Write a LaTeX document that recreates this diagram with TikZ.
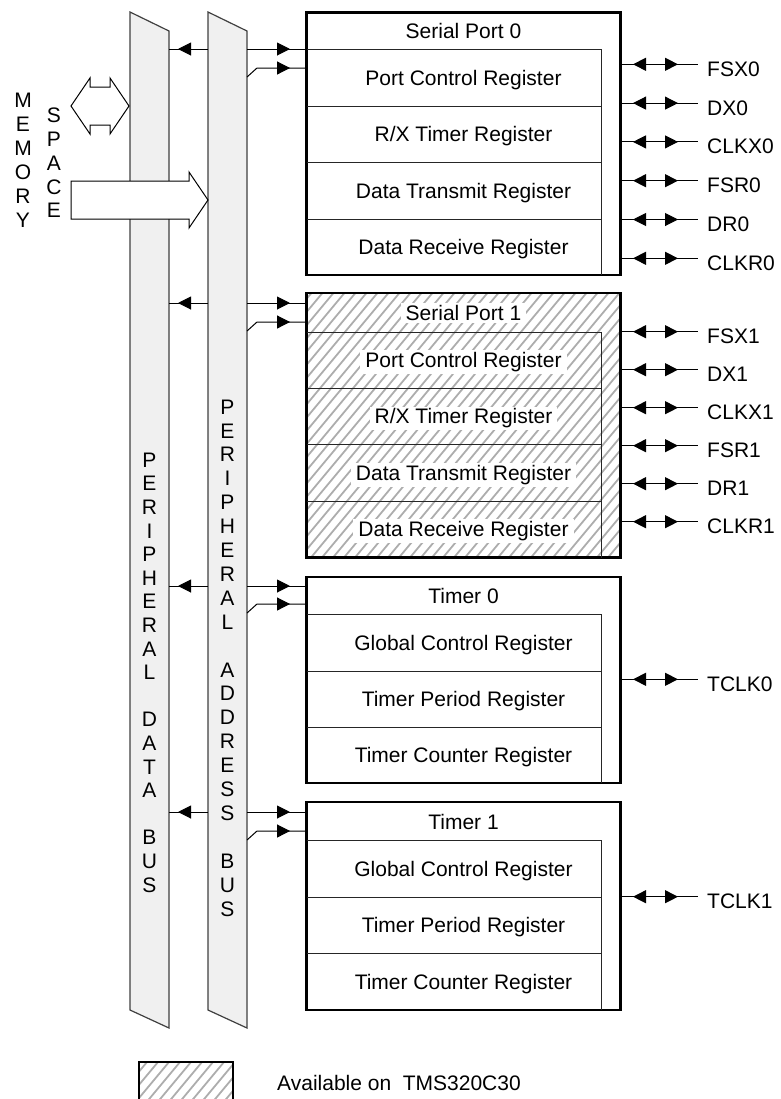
\documentclass[tikz,border=0pt]{standalone}
\usepackage{fontspec}
\setmainfont{Liberation Sans}
\usetikzlibrary{arrows.meta,decorations.markings}
\begin{document}
\begin{tikzpicture}[x=1bp,y=-1bp,
  every node/.style={font=\fontsize{21bp}{24bp}\selectfont, inner sep=0},
  bus/.style={draw=black!75, fill=black!6, line width=1.2bp},
  hollow/.style={draw=black, fill=white, line width=1bp},
  obox/.style={draw=black, line width=2.8bp, minimum width=314bp, anchor=north west, outer sep=0},
  regline/.style={line width=1bp, draw=black!85},
  hatchline/.style={draw=black!32, line width=1.8bp},
  txt/.style={anchor=base},
  lbl/.style={anchor=base, fill=white, inner xsep=5bp, inner ysep=2bp},
  pin/.style={anchor=base west, inner xsep=9bp},
  conn/.style={line width=1bp},
  pinline/.style={conn, postaction={decorate}, decoration={markings,
     mark=at position 12.5bp with {\arrowreversed{Triangle[length=13bp,width=13bp]}},
     mark=at position 57.5bp with {\arrow{Triangle[length=13bp,width=13bp]}}}},
  dataarrow/.style={conn, postaction={decorate}, decoration={markings,
     mark=at position 30bp with {\arrow{Triangle[length=13bp,width=13bp]}}}},
  addrarrow/.style={conn, postaction={decorate}, decoration={markings,
     mark=at position 43bp with {\arrow{Triangle[length=13bp,width=13bp]}}}},
  addrarrowb/.style={conn, postaction={decorate}, decoration={markings,
     mark=at position 46.5bp with {\arrow{Triangle[length=13bp,width=13bp]}}}},
  vtext/.style={align=center}
]
\useasboundingbox (0,0) rectangle (781,1099);

% ---------------- buses ----------------
\draw[bus] (130,12) -- (169,31) -- (169,1028) -- (130,1010) -- cycle;
\draw[bus] (208,12) -- (247,31) -- (247,1028) -- (208,1010) -- cycle;
\coordinate (dbR) at (169,0);
\coordinate (abL) at (208,0);
\coordinate (abR) at (247,0);

\node[vtext, font=\fontsize{21bp}{23.6bp}\selectfont] (dbtxt) at (149.5,672.5)
  {P\\E\\R\\I\\P\\H\\E\\R\\A\\L\\\mbox{}\\D\\A\\T\\A\\\mbox{}\\B\\U\\S};
\node[vtext, font=\fontsize{21bp}{23.9bp}\selectfont] (abtxt) at (227.5,658)
  {P\\E\\R\\I\\P\\H\\E\\R\\A\\L\\\mbox{}\\A\\D\\D\\R\\E\\S\\S\\\mbox{}\\B\\U\\S};

% ---------------- memory space ----------------
\node[vtext, font=\fontsize{21bp}{24bp}\selectfont] (mem) at (23,160) {M\\E\\M\\O\\R\\Y};
\node[vtext, font=\fontsize{21bp}{23.8bp}\selectfont] (spc) at (54,163) {S\\P\\A\\C\\E};
\draw[hollow] (71,106) -- (90,78) -- (90,87) -- (110,87) -- (110,78) -- (129,106)
  -- (110,134) -- (110,125) -- (90,125) -- (90,134) -- cycle;
\draw[hollow] (71,181) -- (189,181) -- (189,172) -- (208,200) -- (189,228)
  -- (189,219) -- (71,219) -- cycle;

% ---------------- hatching ----------------
\begin{scope}
  \clip (306.5,293) rectangle (620.5,557.5);
  \foreach \x in {80,91,...,640} \draw[hatchline] (\x,557.5) -- ++(230,-276);
\end{scope}
\begin{scope}
  \clip (139,1062) rectangle (233,1104);
  \foreach \x in {90,101,...,250} \draw[hatchline] (\x,1104) -- ++(40,-48);
\end{scope}

% ---------------- Serial Port 0 ----------------
\node[obox, minimum height=262.5bp] (sp0) at (306.5,12.5) {};
\draw[regline] (sp0.west |- 0,49) -- (601,49) -- (601,275);
\foreach \y in {106,162,219} \draw[regline] (sp0.west |- 0,\y) -- (601,\y);
\node[txt] (sp0t) at (463.5,38.8) {Serial Port 0};
\node[txt] (sp0a) at (463.5,85) {Port Control Register};
\node[txt] (sp0b) at (463.5,141.5) {R/X Timer Register};
\node[txt] (sp0c) at (463.5,198) {Data Transmit Register};
\node[txt] (sp0d) at (463.5,254.5) {Data Receive Register};

% ---------------- Serial Port 1 ----------------
\node[obox, minimum height=264.5bp] (sp1) at (306.5,293) {};
\draw[regline] (sp1.west |- 0,332) -- (601,332) -- (601,557.5);
\foreach \y in {388,444.5,501} \draw[regline] (sp1.west |- 0,\y) -- (601,\y);
\node[lbl] (sp1t) at (463.5,320.5) {Serial Port 1};
\node[lbl] (sp1a) at (463.5,367.5) {Port Control Register};
\node[lbl] (sp1b) at (463.5,423.8) {R/X Timer Register};
\node[lbl] (sp1c) at (463.5,480.2) {Data Transmit Register};
\node[lbl] (sp1d) at (463.5,536.5) {Data Receive Register};

% ---------------- Timer 0 ----------------
\node[obox, minimum height=206bp] (t0) at (306.5,577) {};
\draw[regline] (t0.west |- 0,614) -- (601,614) -- (601,783);
\foreach \y in {671,727} \draw[regline] (t0.west |- 0,\y) -- (601,\y);
\node[txt] (t0t) at (463.5,603.5) {Timer 0};
\node[txt] (t0a) at (463.5,650) {Global Control Register};
\node[txt] (t0b) at (463.5,706.5) {Timer Period Register};
\node[txt] (t0c) at (463.5,762.5) {Timer Counter Register};

% ---------------- Timer 1 ----------------
\node[obox, minimum height=208bp] (t1) at (306.5,802) {};
\draw[regline] (t1.west |- 0,840) -- (601,840) -- (601,1010);
\foreach \y in {897,953} \draw[regline] (t1.west |- 0,\y) -- (601,\y);
\node[txt] (t1t) at (463.5,829) {Timer 1};
\node[txt] (t1a) at (463.5,876) {Global Control Register};
\node[txt] (t1b) at (463.5,932.5) {Timer Period Register};
\node[txt] (t1c) at (463.5,989) {Timer Counter Register};

% ---------------- bus connections ----------------
\foreach \b/\ya/\yb in {sp0/49/68, sp1/303/322, t0/586/604, t1/812/831} {
  \draw[dataarrow] (abL |- 0,\ya) -- (dbR |- 0,\ya);
  \draw[addrarrow] (abR |- 0,\ya) -- (\b.west |- 0,\ya);
  \draw[addrarrowb] (abR |- 0,\yb+9) -- ++(10,-9) -- (\b.west |- 0,\yb);
}

% ---------------- pins ----------------
\foreach \y/\t [count=\i] in {64.3/FSX0, 103.1/DX0, 141.9/CLKX0, 180.7/FSR0, 219.5/DR0, 258.3/CLKR0} {
  \node[pin] (p0\i) at (698,\y+12) {\t};
  \draw[pinline] (sp0.east |- 0,\y) -- (p0\i.west |- 0,\y);
}
\foreach \y/\t [count=\i] in {331.7/FSX1, 369.7/DX1, 407.7/CLKX1, 445.7/FSR1, 483.7/DR1, 521.7/CLKR1} {
  \node[pin] (p1\i) at (698,\y+12) {\t};
  \draw[pinline] (sp1.east |- 0,\y) -- (p1\i.west |- 0,\y);
}
\node[pin] (tc0) at (698,679.3+12) {TCLK0};
\draw[pinline] (t0.east |- 0,679.3) -- (tc0.west |- 0,679.3);
\node[pin] (tc1) at (698,896.7+12) {TCLK1};
\draw[pinline] (t1.east |- 0,896.7) -- (tc1.west |- 0,896.7);

% ---------------- legend ----------------
\node[draw=black, line width=2.8bp, minimum width=94bp, minimum height=45bp,
      anchor=north west, outer sep=0] (leg) at (139,1062) {};
\node[anchor=base west] (legtxt) at (277,1090.5) {Available on~~TMS320C30};
\end{tikzpicture}
\end{document}
